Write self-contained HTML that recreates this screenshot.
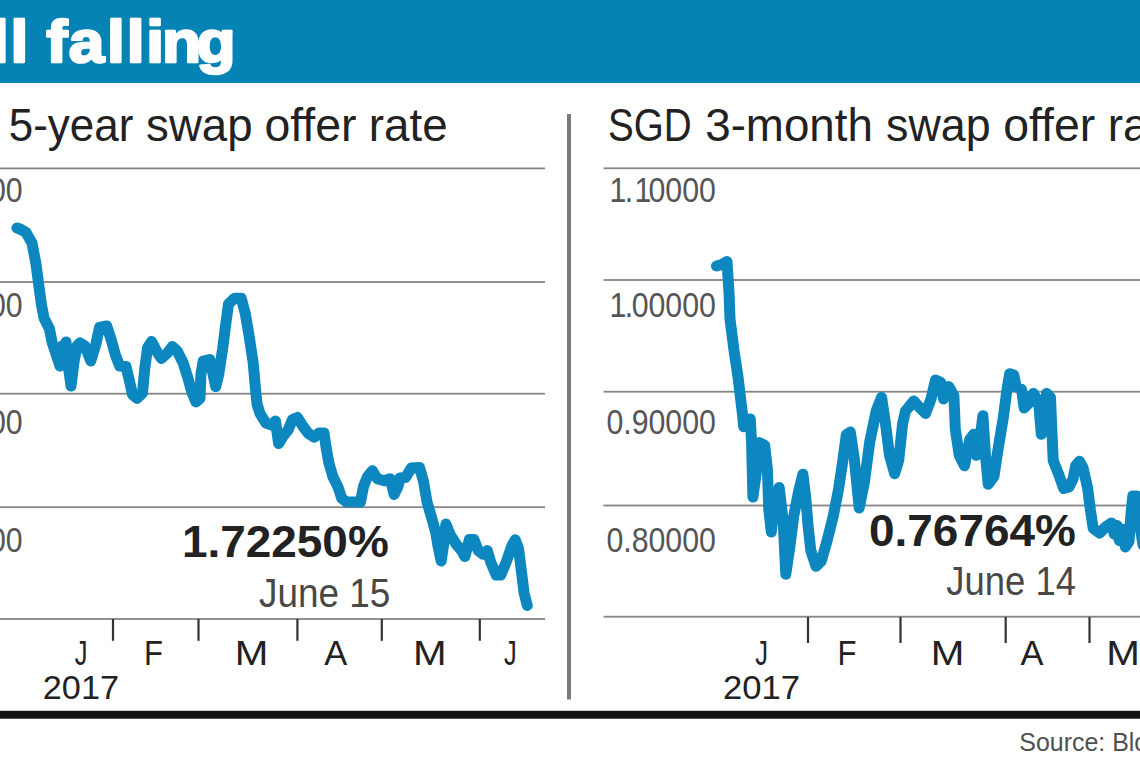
<!DOCTYPE html>
<html lang="en"><head><meta charset="utf-8"><title>Still falling</title>
<style>
html,body{margin:0;padding:0;background:#fff;}
body{width:1140px;height:760px;overflow:hidden;}
svg{display:block;font-family:"Liberation Sans",sans-serif;}
</style></head><body>
<svg width="1140" height="760" viewBox="0 0 1140 760">
<rect width="1140" height="760" fill="#fff"/>
<rect x="0" y="0" width="1140" height="83" fill="#0583B5"/>
<text transform="translate(0,62.35) scale(1.072,1)" x="-84.8 -45.0 -25.1 -8.5 9.9 26.4 43.2 64.2 99.8 118.2 136.5 151.2 183.4" font-size="59.7" font-weight="700" fill="#fff" stroke="#fff" stroke-width="2.5" stroke-linejoin="round">Still falling</text>
<text y="141.2" font-size="46.4" font-weight="400" fill="#222"><tspan x="-84.04" textLength="83.67" lengthAdjust="spacingAndGlyphs">SGD</tspan> <tspan x="8.74" textLength="124.73" lengthAdjust="spacingAndGlyphs">5-year</tspan> <tspan x="146.09" textLength="106.56" lengthAdjust="spacingAndGlyphs">swap</tspan> <tspan x="264.44" textLength="92.16" lengthAdjust="spacingAndGlyphs">offer</tspan> <tspan x="368.86" textLength="78.80" lengthAdjust="spacingAndGlyphs">rate</tspan></text>
<text y="141.2" font-size="46.4" font-weight="400" fill="#222"><tspan x="607.96" textLength="83.67" lengthAdjust="spacingAndGlyphs">SGD</tspan> <tspan x="705.23" textLength="167.64" lengthAdjust="spacingAndGlyphs">3-month</tspan> <tspan x="886.10" textLength="104.51" lengthAdjust="spacingAndGlyphs">swap</tspan> <tspan x="1003.14" textLength="92.06" lengthAdjust="spacingAndGlyphs">offer</tspan> <tspan x="1107.86" textLength="78.80" lengthAdjust="spacingAndGlyphs">rate</tspan></text>
<rect x="567" y="114" width="4" height="585.5" fill="#7a7a7a"/>
<rect x="0" y="167.5" width="545" height="1.8" fill="#858585"/>
<rect x="0" y="281.1" width="545" height="1.8" fill="#858585"/>
<rect x="0" y="392.8" width="545" height="1.8" fill="#858585"/>
<rect x="0" y="506.3" width="545" height="1.8" fill="#858585"/>
<rect x="0" y="618.1" width="545" height="1.8" fill="#858585"/>
<rect x="603.5" y="167.4" width="540" height="1.8" fill="#858585"/>
<rect x="603.5" y="279.1" width="540" height="1.8" fill="#858585"/>
<rect x="603.5" y="390.8" width="540" height="1.8" fill="#858585"/>
<rect x="603.5" y="504.6" width="540" height="1.8" fill="#858585"/>
<rect x="603.5" y="615.8" width="540" height="1.8" fill="#858585"/>
<text transform="translate(-86.80,201.90) scale(0.8530,1)" font-size="35.5" font-weight="400" fill="#555" text-anchor="start">2.10000</text>
<text transform="translate(-86.80,317.40) scale(0.8530,1)" font-size="35.5" font-weight="400" fill="#555" text-anchor="start">2.00000</text>
<text transform="translate(-86.80,433.70) scale(0.8530,1)" font-size="35.5" font-weight="400" fill="#555" text-anchor="start">1.90000</text>
<text transform="translate(-86.80,551.80) scale(0.8530,1)" font-size="35.5" font-weight="400" fill="#555" text-anchor="start">1.80000</text>
<text transform="translate(606.40,201.90) scale(0.8530,1)" font-size="35.5" font-weight="400" fill="#555" text-anchor="start" x="3.5 21.5 33.1 49.35">1.10000</text>
<text transform="translate(606.40,317.40) scale(0.8530,1)" font-size="35.5" font-weight="400" fill="#555" text-anchor="start" x="3.5 21.5 29.61">1.00000</text>
<text transform="translate(606.40,433.70) scale(0.8530,1)" font-size="35.5" font-weight="400" fill="#555" text-anchor="start">0.90000</text>
<text transform="translate(606.40,551.80) scale(0.8530,1)" font-size="35.5" font-weight="400" fill="#555" text-anchor="start">0.80000</text>
<polyline points="17.0,228.0 21.0,229.5 26.0,232.5 32.0,243.0 36.0,264.0 39.0,287.0 41.5,305.0 44.0,318.0 49.5,329.0 52.0,342.0 57.0,357.0 60.0,366.0 62.0,346.0 64.0,362.0 66.0,342.0 68.0,364.0 71.0,386.0 74.0,362.0 77.0,346.0 80.0,343.0 85.0,346.0 90.8,361.0 95.9,344.0 99.5,327.5 106.7,326.0 111.0,339.0 115.4,355.0 119.7,366.0 126.0,366.6 129.0,379.0 132.5,394.5 137.0,398.4 142.5,393.0 144.7,369.0 147.6,347.5 151.6,341.5 156.5,351.0 161.4,358.5 167.4,353.0 172.3,346.5 177.2,351.0 183.2,363.0 188.1,378.7 192.0,392.5 196.0,402.0 200.0,398.4 200.9,374.7 203.2,361.0 209.8,359.5 212.8,373.0 215.7,386.6 218.7,374.7 222.6,349.0 225.6,325.4 228.5,304.0 234.5,298.3 241.2,298.3 245.3,313.5 249.3,337.2 253.2,363.0 255.6,390.0 257.0,404.0 260.0,413.5 265.8,423.0 271.7,425.0 275.5,421.0 278.6,443.5 282.6,437.0 288.5,429.3 292.4,419.5 297.4,417.5 302.3,425.4 308.2,433.3 314.1,437.2 319.1,433.0 324.0,433.0 326.0,447.0 328.9,463.0 332.9,476.7 337.8,486.6 341.8,498.4 346.7,502.0 360.5,502.0 363.5,486.6 367.4,476.7 372.4,470.8 377.3,478.7 384.2,480.7 390.1,478.7 394.1,494.5 398.0,486.6 400.0,478.0 405.6,477.5 411.2,468.0 419.5,467.5 423.5,481.3 426.9,501.4 431.4,517.0 435.8,532.7 438.0,546.0 441.2,561.0 443.7,543.9 445.9,524.0 450.4,535.0 456.0,543.9 461.5,550.6 464.9,556.5 469.4,539.4 473.8,539.4 478.3,550.6 482.8,554.0 487.3,550.6 490.6,561.8 496.2,575.0 500.7,575.0 506.3,561.8 511.8,546.0 515.2,539.8 518.5,548.4 521.9,575.2 524.1,593.0 527.3,605.5" fill="none" stroke="#0D87BF" stroke-width="11" stroke-linejoin="round" stroke-linecap="round"/>
<polyline points="716.5,266.0 722.0,264.5 727.0,261.5 729.0,292.6 730.0,319.0 734.0,350.5 738.0,376.8 742.4,413.7 743.7,426.8 750.3,419.0 751.6,442.6 752.9,497.0 756.8,469.0 759.5,442.6 764.7,445.3 767.4,469.0 768.7,508.4 771.3,532.0 775.3,495.0 779.2,487.4 783.2,521.6 785.8,574.2 789.7,547.9 793.7,516.3 798.9,490.0 802.9,474.2 805.5,495.3 808.2,526.8 810.8,550.5 816.0,566.3 821.3,561.0 826.6,542.6 833.2,516.3 838.4,490.0 842.4,463.7 846.3,434.7 850.3,432.0 854.2,458.0 859.2,508.0 864.5,481.6 869.7,442.0 876.3,410.5 881.6,397.4 885.5,423.7 889.5,455.3 894.7,473.7 898.7,460.5 902.6,423.7 905.5,411.0 908.5,407.5 913.7,401.0 919.6,407.5 925.5,413.5 931.0,399.0 935.5,380.0 940.8,382.5 943.6,399.0 948.7,386.5 953.9,396.0 955.3,429.0 959.2,455.3 964.5,465.8 969.7,439.5 973.7,434.2 976.3,455.3 980.3,436.8 982.9,415.8 985.5,455.3 988.2,484.2 994.0,476.3 997.9,450.0 1003.2,418.4 1007.0,389.5 1009.7,373.7 1013.7,375.0 1016.3,386.8 1021.6,389.5 1024.2,408.0 1029.5,402.6 1033.4,393.4 1038.7,402.6 1041.3,434.2 1044.0,415.0 1046.6,393.4 1050.5,397.4 1051.8,429.0 1053.2,460.5 1058.4,473.7 1063.7,488.5 1069.0,487.0 1073.0,479.0 1075.7,465.8 1079.4,461.2 1083.0,467.6 1087.6,488.0 1090.4,510.0 1093.2,528.5 1099.6,533.0 1106.0,526.6 1111.6,523.0 1114.2,534.0 1117.0,525.5 1119.3,540.5 1122.0,529.0 1125.4,547.0 1129.0,541.5 1131.0,513.7 1132.8,496.0 1137.0,496.0 1139.0,520.0 1143.0,545.0" fill="none" stroke="#0D87BF" stroke-width="11" stroke-linejoin="round" stroke-linecap="round"/>
<rect x="111.9" y="619" width="2.2" height="21.8" fill="#333"/>
<rect x="197.4" y="619" width="2.2" height="21.8" fill="#333"/>
<rect x="296.3" y="619" width="2.2" height="21.8" fill="#333"/>
<rect x="380.7" y="619" width="2.2" height="21.8" fill="#333"/>
<rect x="478.7" y="619" width="2.2" height="21.8" fill="#333"/>
<rect x="806.9" y="617" width="2.2" height="26" fill="#333"/>
<rect x="899.4" y="617" width="2.2" height="26" fill="#333"/>
<rect x="1004.6" y="617" width="2.2" height="26" fill="#333"/>
<rect x="1088.4" y="617" width="2.2" height="26" fill="#333"/>
<text transform="translate(81.00,664.70) scale(0.7400,1)" font-size="34.5" font-weight="400" fill="#222" text-anchor="middle">J</text>
<text transform="translate(153.50,664.70) scale(0.9000,1)" font-size="34.5" font-weight="400" fill="#222" text-anchor="middle">F</text>
<text transform="translate(251.50,664.70) scale(1.1700,1)" font-size="34.5" font-weight="400" fill="#222" text-anchor="middle">M</text>
<text transform="translate(335.70,664.70) scale(1.0000,1)" font-size="34.5" font-weight="400" fill="#222" text-anchor="middle">A</text>
<text transform="translate(429.80,664.70) scale(1.1700,1)" font-size="34.5" font-weight="400" fill="#222" text-anchor="middle">M</text>
<text transform="translate(510.40,664.70) scale(0.7400,1)" font-size="34.5" font-weight="400" fill="#222" text-anchor="middle">J</text>
<text transform="translate(761.70,665.00) scale(0.7400,1)" font-size="34.5" font-weight="400" fill="#222" text-anchor="middle">J</text>
<text transform="translate(847.00,665.00) scale(0.9000,1)" font-size="34.5" font-weight="400" fill="#222" text-anchor="middle">F</text>
<text transform="translate(947.50,665.00) scale(1.1700,1)" font-size="34.5" font-weight="400" fill="#222" text-anchor="middle">M</text>
<text transform="translate(1031.90,665.00) scale(1.0000,1)" font-size="34.5" font-weight="400" fill="#222" text-anchor="middle">A</text>
<text transform="translate(1123.00,665.00) scale(1.1700,1)" font-size="34.5" font-weight="400" fill="#222" text-anchor="middle">M</text>
<text transform="translate(42.80,699.00) scale(1.0080,1)" font-size="34" font-weight="400" fill="#222" text-anchor="start">2017</text>
<text transform="translate(723.10,699.40) scale(1.0180,1)" font-size="34" font-weight="400" fill="#222" text-anchor="start">2017</text>
<text transform="translate(181.90,557.20) scale(1.0440,1)" font-size="44" font-weight="700" fill="#222" text-anchor="start">1.72250%</text>
<text transform="translate(259.10,606.60) scale(0.9220,1)" font-size="40" font-weight="400" fill="#484848" text-anchor="start">June 15</text>
<text transform="translate(869.00,545.80) scale(1.0440,1)" font-size="44" font-weight="700" fill="#222" text-anchor="start">0.76764%</text>
<text transform="translate(946.30,595.40) scale(0.9110,1)" font-size="40" font-weight="400" fill="#484848" text-anchor="start">June 14</text>
<rect x="0" y="710.8" width="1140" height="7.9" fill="#141414"/>
<text transform="translate(1019.30,751.20) scale(0.9450,1)" font-size="26.4" font-weight="400" fill="#505050" text-anchor="start">Source: Bloomberg</text>
</svg></body></html>
